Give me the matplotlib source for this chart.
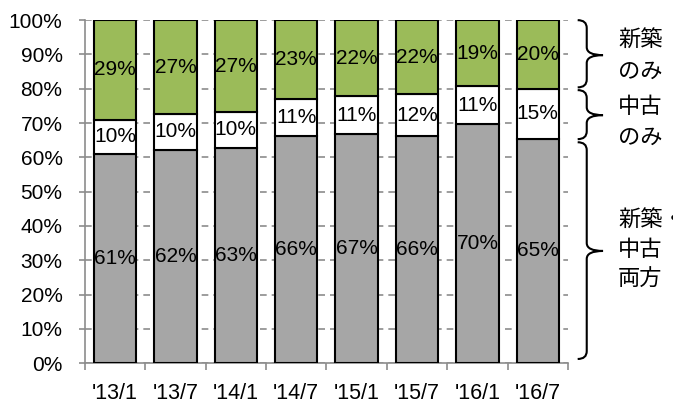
import numpy as np
import matplotlib.pyplot as plt
from matplotlib.path import Path
from matplotlib.patches import PathPatch
from matplotlib.ticker import FixedLocator

#%% data (%)
periods = ["'13/1", "'13/7", "'14/1", "'14/7", "'15/1", "'15/7", "'16/1", "'16/7"]
both = [60.9, 62.2, 62.8, 66.3, 66.7, 66.2, 69.6, 65.4]       # 新築・中古両方
used_only = [10.1, 10.4, 10.4, 10.7, 11.1, 12.2, 11.2, 14.6]  # 中古のみ
new_only = [29.0, 27.4, 26.8, 23.0, 22.2, 21.6, 19.2, 20.0]   # 新築のみ

#%% style
plt.rcParams['font.family'] = ['Liberation Sans', 'Noto Sans CJK JP', 'DejaVu Sans']
FS = 15

fig = plt.figure(figsize=(6.73, 4.03), dpi=100)
ax = fig.add_axes([0.126, 0.099, 0.718, 0.851])

x = np.arange(len(periods))
both = np.array(both)
used_only = np.array(used_only)
new_only = np.array(new_only)

kw = dict(width=0.7, edgecolor='black', linewidth=1.5, zorder=3)
ax.bar(x, both, color='#A6A6A6', **kw)
ax.bar(x, used_only, bottom=both, color='white', **kw)
ax.bar(x, new_only, bottom=both + used_only, color='#9BBB59', **kw)

# value labels in the middle of each segment
for i in x:
    segs = [(0, both[i]), (both[i], used_only[i]), (both[i] + used_only[i], new_only[i])]
    for b, h in segs:
        ax.text(i, b + h / 2, f'{h:.0f}%', ha='center', va='center',
                fontsize=FS, zorder=4)

#%% axes
ax.set_xlim(-0.5, len(periods) - 0.5)
ax.set_ylim(0, 100)
ax.set_yticks(np.arange(0, 101, 10))
ax.set_yticklabels([f'{v}%' for v in range(0, 101, 10)])
ax.yaxis.grid(True, linestyle=(0, (4, 3)), color='#8C8C8C', linewidth=1.2, zorder=0)
ax.xaxis.set_major_locator(FixedLocator(np.arange(-0.5, len(periods), 1)))
ax.xaxis.set_minor_locator(FixedLocator(x))
ax.set_xticklabels([], minor=False)
ax.set_xticklabels(periods, minor=True)
ax.tick_params(axis='x', which='major', length=5, width=1.2, color='#8C8C8C')
ax.tick_params(axis='x', which='minor', length=0, pad=14, labelsize=FS + 0.5)
ax.tick_params(axis='y', length=4, width=1.2, color='#8C8C8C', pad=12, labelsize=FS)
for s in ['top', 'right']:
    ax.spines[s].set_visible(False)
for s in ['left', 'bottom']:
    ax.spines[s].set_color('#8C8C8C')
    ax.spines[s].set_linewidth(1.2)


#%% braces on the right
def brace(ax, y_top, y_bot, y_tip, xa=7.66, x1=7.81, xt=8.08, r=2.3):
    verts = [(xa, y_top), (x1, y_top), (x1, y_top - r),
             (x1, y_tip + r), (x1, y_tip), (xt, y_tip),
             (x1, y_tip), (x1, y_tip - r),
             (x1, y_bot + r), (x1, y_bot), (xa, y_bot)]
    codes = [Path.MOVETO, Path.CURVE3, Path.CURVE3,
             Path.LINETO, Path.CURVE3, Path.CURVE3,
             Path.CURVE3, Path.CURVE3,
             Path.LINETO, Path.CURVE3, Path.CURVE3]
    ax.add_patch(PathPatch(Path(verts, codes), facecolor='none', edgecolor='black',
                           linewidth=1.5, clip_on=False))


brace(ax, 100, 80.4, 89.8)
brace(ax, 79.6, 65.3, 72.3)
brace(ax, 64.4, 1.2, 32.7)

JFS = 16
jp = ['Noto Sans CJK JP']
ax.text(8.33, 89.5, '新築\nのみ', fontsize=JFS, va='center', ha='left',
        linespacing=1.45, family=jp)
ax.text(8.33, 70.4, '中古\nのみ', fontsize=JFS, va='center', ha='left',
        linespacing=1.45, family=jp)
ax.text(8.33, 33.0, '新築・\n中古\n両方', fontsize=JFS, va='center', ha='left',
        linespacing=1.35, family=jp)

plt.savefig('out.png', dpi=100)
